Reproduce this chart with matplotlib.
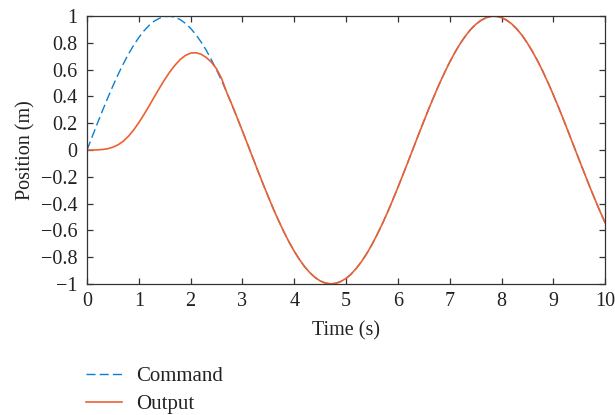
import matplotlib
matplotlib.use("Agg")
import matplotlib.pyplot as plt
import numpy as np

# time axis (s), sampled every 0.1 s
time = np.round(np.arange(0, 101) * 0.1, 1)

# command position (m)
command = [0.000, 0.100, 0.199, 0.296, 0.389, 0.479, 0.565, 0.644, 0.717, 0.783,
           0.841, 0.891, 0.932, 0.964, 0.985, 0.997, 1.000, 0.992, 0.974, 0.946,
           0.909, 0.863, 0.808, 0.746, 0.675, 0.598, 0.516, 0.427, 0.335, 0.239,
           0.141, 0.042, -0.058, -0.158, -0.256, -0.351, -0.443, -0.530, -0.612, -0.688,
           -0.757, -0.818, -0.872, -0.916, -0.952, -0.978, -0.994, -1.000, -0.996, -0.982,
           -0.959, -0.926, -0.883, -0.832, -0.773, -0.706, -0.631, -0.551, -0.465, -0.374,
           -0.279, -0.182, -0.083, 0.017, 0.117, 0.215, 0.312, 0.405, 0.494, 0.578,
           0.657, 0.729, 0.794, 0.850, 0.899, 0.938, 0.968, 0.988, 0.999, 0.999,
           0.989, 0.970, 0.941, 0.902, 0.855, 0.798, 0.734, 0.663, 0.585, 0.501,
           0.412, 0.319, 0.223, 0.124, 0.024, -0.075, -0.174, -0.272, -0.366, -0.458,
           -0.544]

# output position (m) for 0..2.6 s, after that it sits on the command
output_start = [0.000, 0.000, 0.001, 0.004, 0.010, 0.021, 0.039, 0.066, 0.103, 0.150,
                0.205, 0.266, 0.331, 0.398, 0.464, 0.527, 0.585, 0.635, 0.677, 0.707,
                0.724, 0.727, 0.716, 0.692, 0.656, 0.607, 0.532]
output = output_start + command[len(output_start):]

xticks = list(range(0, 11))
yticks = [-1, -0.8, -0.6, -0.4, -0.2, 0, 0.2, 0.4, 0.6, 0.8, 1]
ylabels = ['\u22121', '\u22120.8', '\u22120.6', '\u22120.4', '\u22120.2', '0',
           '0.2', '0.4', '0.6', '0.8', '1']

plt.rcParams['font.family'] = ['Liberation Serif', 'DejaVu Serif']
plt.rcParams['font.size'] = 14.5

fig = plt.figure(figsize=(6.15, 4.15), dpi=100)
ax = fig.add_axes([0.1415, 0.316, 0.8425, 0.645])

ax.plot(time, command, color='#0A7FD0', linestyle=(0, (6.5, 3)), linewidth=1.0, label='Command')
ax.plot(time, output, color='#EE6030', linewidth=1.2, label='Output')

ax.set_xlim(0, 10)
ax.set_ylim(-1, 1)
ax.set_xticks(xticks)
ax.set_yticks(yticks)
ax.set_yticklabels(ylabels)
ax.tick_params(direction='in', top=True, right=True, length=4, width=0.9,
               colors='#333333', labelcolor='#222222')
ax.tick_params(axis='y', pad=7)
ax.tick_params(axis='x', pad=6)
for s in ax.spines.values():
    s.set_color('#333333')
    s.set_linewidth(0.9)

ax.set_xlabel('Time (s)', color='#222222', labelpad=7)
ax.set_ylabel('Position (m)', color='#222222', labelpad=4)

fig.legend(loc='upper left', bbox_to_anchor=(0.127, 0.137), frameon=False,
           fontsize=15, handlelength=1.7, handletextpad=0.67, labelspacing=0.4,
           labelcolor='#222222', borderaxespad=0)

plt.savefig('out.png', dpi=100)
